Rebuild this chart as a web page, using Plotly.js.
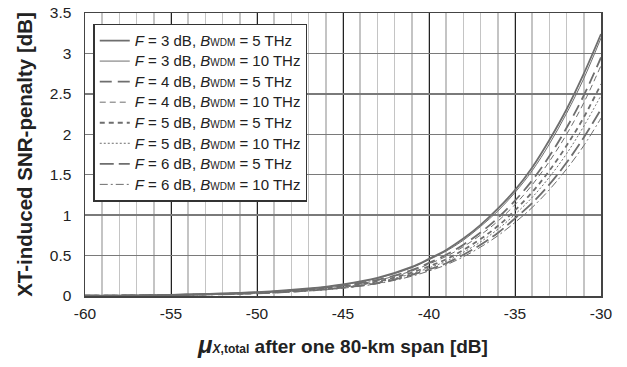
<!DOCTYPE html>
<html><head><meta charset="utf-8">
<script src="https://cdn.plot.ly/plotly-3.0.1.min.js"></script>
<style>html,body{margin:0;padding:0;background:#fff}#chart{width:627px;height:367px}</style>
</head><body><div id="chart"></div>
<script>
// x values: mu_X,total after one 80-km span [dB]
const muX = [-60, -55, -50, -47, -45, -43, -41, -40, -39, -38, -37, -36, -35, -34, -33, -32, -31, -30];
// XT-induced SNR penalty [dB] per configuration
const f3b5  = [0.005, 0.015, 0.047, 0.093, 0.145, 0.225, 0.360, 0.460, 0.570, 0.710, 0.880, 1.080, 1.310, 1.590, 1.930, 2.310, 2.750, 3.240];
const f3b10 = [0.005, 0.015, 0.046, 0.090, 0.140, 0.218, 0.350, 0.448, 0.555, 0.690, 0.860, 1.050, 1.280, 1.550, 1.880, 2.260, 2.690, 3.190];
const f4b5  = [0.004, 0.013, 0.042, 0.083, 0.130, 0.200, 0.320, 0.410, 0.510, 0.635, 0.785, 0.965, 1.180, 1.430, 1.730, 2.080, 2.480, 2.950];
const f4b10 = [0.004, 0.013, 0.040, 0.080, 0.125, 0.193, 0.310, 0.396, 0.490, 0.610, 0.755, 0.925, 1.130, 1.375, 1.665, 2.000, 2.390, 2.850];
const f5b5  = [0.004, 0.012, 0.037, 0.074, 0.115, 0.180, 0.290, 0.367, 0.455, 0.570, 0.705, 0.865, 1.060, 1.285, 1.550, 1.860, 2.210, 2.620];
const f5b10 = [0.004, 0.011, 0.035, 0.070, 0.110, 0.170, 0.275, 0.348, 0.430, 0.540, 0.670, 0.825, 1.010, 1.220, 1.470, 1.760, 2.100, 2.480];
const f6b5  = [0.003, 0.011, 0.033, 0.066, 0.103, 0.160, 0.260, 0.328, 0.405, 0.510, 0.635, 0.780, 0.960, 1.150, 1.380, 1.650, 1.960, 2.310];
const f6b10 = [0.003, 0.010, 0.031, 0.062, 0.097, 0.152, 0.245, 0.310, 0.385, 0.485, 0.605, 0.745, 0.910, 1.095, 1.315, 1.570, 1.860, 2.200];
const seriesF = ["3", "3", "4", "4", "5", "5", "6", "6"];
const seriesB = ["5", "10", "5", "10", "5", "10", "5", "10"];
const seriesY = [f3b5, f3b10, f4b5, f4b10, f5b5, f5b10, f6b5, f6b10];
const xTicks = [-60, -55, -50, -45, -40, -35, -30];

const styles = [
  {dash: "solid", width: 1.8},
  {dash: "solid", width: 1},
  {dash: "12px,6px", width: 1.8},
  {dash: "6px,4px", width: 1},
  {dash: "5px,4px", width: 1.8},
  {dash: "2px,2px", width: 1},
  {dash: "14px,5px", width: 1.8},
  {dash: "8px,3px,2px,3px", width: 1}
];

const traces = seriesY.map((y, i) => ({
  x: muX, y: y, type: "scatter", mode: "lines",
  line: {color: "#6e6e6e", width: styles[i].width, dash: styles[i].dash, shape: "spline", smoothing: 1},
  name: "<span style='font-size:15px'><i>F</i> = " + seriesF[i] + " dB, <i>B</i><span style='font-size:10px'>WDM</span> = " + seriesB[i] + " THz</span>"
}));

const layout = {
  width: 627, height: 367,
  margin: {l: 85, r: 26, t: 13, b: 71},
  paper_bgcolor: "#fff", plot_bgcolor: "#fff",
  font: {family: "Liberation Sans, Arial, sans-serif", color: "#222", size: 14},
  showlegend: true,
  legend: {
    x: 0.016, y: 0.962, xanchor: "left", yanchor: "top",
    bgcolor: "#fff", bordercolor: "#333", borderwidth: 1.5,
    font: {size: 13.5, color: "#222"},
    itemwidth: 30
  },
  xaxis: {
    range: [-60, -30], tickvals: xTicks, ticktext: xTicks.map(String),
    showgrid: true, gridcolor: "#222", gridwidth: 1,
    minor: {dtick: 1, showgrid: true, gridcolor: "#c4c4c4", gridwidth: 1.5},
    zeroline: false, showline: true, mirror: true, linecolor: "#444", linewidth: 1.5,
    ticks: "", ticklabelstandoff: 3, tickfont: {size: 15.5},
    title: {text: "<b><i style='font-size:24px'>μ</i><span style='font-size:12px'><i>X</i>,total</span> after one 80-km span [dB]</b>", font: {size: 19}, standoff: 18}
  },
  yaxis: {
    range: [0, 3.5], dtick: 0.5,
    showgrid: true, gridcolor: "#7a7a7a", gridwidth: 1.5,
    zeroline: false, showline: true, mirror: true, linecolor: "#444", linewidth: 1.5,
    ticks: "", ticklabelstandoff: 9, tickfont: {size: 15.5},
    title: {text: "<b>XT-induced SNR-penalty [dB]</b>", font: {size: 20.5}, standoff: 11}
  }
};

Plotly.newPlot("chart", traces, layout, {staticPlot: true, displayModeBar: false});
</script></body></html>
